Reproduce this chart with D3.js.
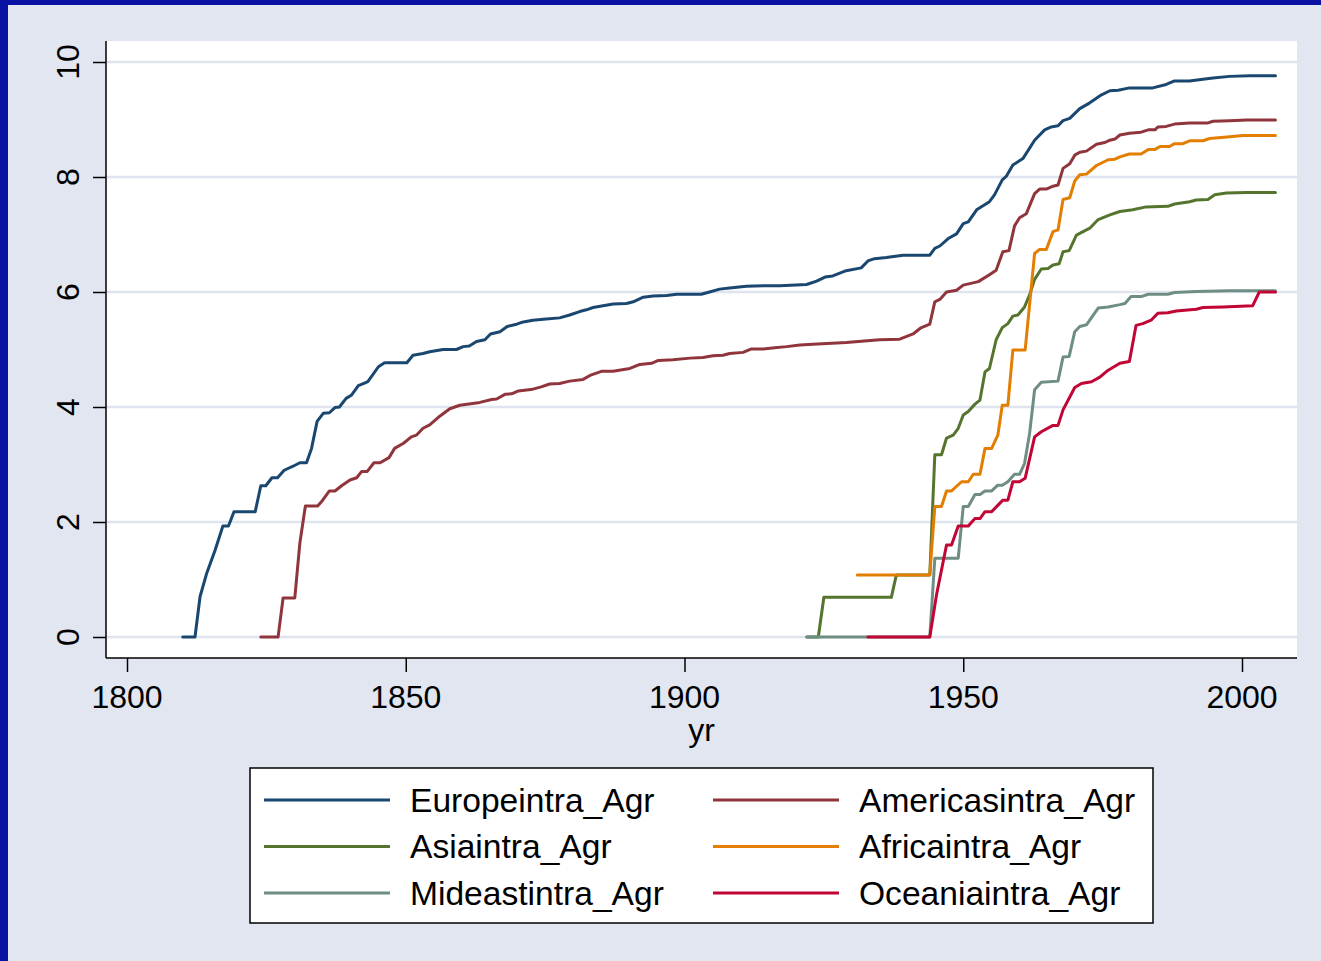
<!DOCTYPE html>
<meta charset="utf-8">
<script src="https://d3js.org/d3.v7.min.js"></script>
<style>
  body { margin: 0; background: #e1e6f0; }
  text { font-family: "Liberation Sans", Arial, sans-serif; fill: #000; }
</style>
<div id="chart"></div>
<script>

// values: [year, value]
var europe = [[1810,0],[1812.2,0],[1813.1,0.70],[1814.3,1.11],[1815.8,1.51],[1817.2,1.93],[1818.2,1.93],[1819.2,2.18],[1823,2.18],[1824,2.63],[1824.9,2.63],[1826,2.77],[1827,2.77],[1828.2,2.90],[1829.8,2.97],[1831,3.03],[1832.2,3.03],[1833.1,3.28],[1834.1,3.75],[1835.2,3.89],[1836.3,3.90],[1837.3,3.99],[1838.1,4.00],[1839.3,4.15],[1840.3,4.21],[1841.5,4.37],[1842.7,4.42],[1843.2,4.44],[1845.1,4.70],[1846.2,4.77],[1850.2,4.77],[1851.3,4.90],[1853.1,4.93],[1854.3,4.96],[1856.7,5.00],[1859.1,5.00],[1860.3,5.05],[1861.4,5.06],[1862.7,5.14],[1864.2,5.17],[1865.2,5.27],[1866.9,5.31],[1868.2,5.40],[1869.9,5.44],[1871.1,5.48],[1872.8,5.51],[1875.2,5.53],[1877.6,5.55],[1879.4,5.60],[1881.2,5.66],[1882.4,5.69],[1883.6,5.73],[1885.4,5.76],[1887.2,5.79],[1889.6,5.80],[1890.8,5.83],[1892.6,5.91],[1894.4,5.93],[1896.8,5.94],[1898.6,5.96],[1903,5.96],[1904.5,6.00],[1906.3,6.05],[1908.1,6.07],[1911.1,6.10],[1914.1,6.11],[1917.1,6.11],[1921.9,6.13],[1923.7,6.19],[1925.2,6.26],[1926.6,6.28],[1929,6.37],[1931.7,6.42],[1932.9,6.54],[1934.1,6.58],[1936.2,6.60],[1939.2,6.64],[1944,6.64],[1944.9,6.76],[1945.8,6.80],[1947.3,6.93],[1948.8,7.01],[1950,7.19],[1950.9,7.22],[1952.4,7.43],[1954.7,7.57],[1955.6,7.69],[1957,7.95],[1957.7,8.01],[1958.9,8.21],[1960.7,8.32],[1962.8,8.64],[1964.6,8.82],[1965.8,8.87],[1967,8.89],[1967.9,8.98],[1969.1,9.02],[1970.9,9.19],[1972.7,9.29],[1974.8,9.43],[1976.3,9.50],[1977.8,9.51],[1979.8,9.55],[1984,9.55],[1986.4,9.61],[1987.9,9.67],[1990.6,9.67],[1993,9.70],[1994.8,9.72],[1997.8,9.75],[2001.4,9.76],[2006,9.76]]

var americas = [[1824,0],[1827.1,0],[1828,0.68],[1830.1,0.68],[1831,1.63],[1832,2.28],[1834.2,2.28],[1835.1,2.38],[1836.3,2.54],[1837.3,2.54],[1838.5,2.63],[1840,2.73],[1841.2,2.77],[1842.1,2.88],[1843.1,2.88],[1844.3,3.03],[1845.4,3.03],[1847,3.12],[1848,3.28],[1849.6,3.37],[1851,3.48],[1851.9,3.51],[1853.1,3.63],[1854.3,3.69],[1856.1,3.84],[1857.9,3.97],[1859.7,4.03],[1863.3,4.08],[1865.4,4.13],[1866.3,4.14],[1867.8,4.22],[1869,4.23],[1870.2,4.28],[1872.8,4.31],[1874.3,4.35],[1875.8,4.40],[1877.6,4.41],[1879.4,4.45],[1881.8,4.48],[1883.3,4.56],[1885.1,4.62],[1887.2,4.62],[1890.2,4.67],[1892,4.74],[1894.1,4.76],[1895.3,4.81],[1897.9,4.82],[1901,4.85],[1903.3,4.86],[1905.1,4.89],[1906.9,4.90],[1908.1,4.93],[1910.5,4.95],[1912,5.01],[1914.1,5.01],[1916.2,5.03],[1918.3,5.05],[1920.7,5.08],[1923,5.09],[1929,5.12],[1935,5.17],[1938.6,5.18],[1941,5.27],[1942.3,5.37],[1944,5.44],[1944.9,5.83],[1945.8,5.87],[1947,6.00],[1948.8,6.03],[1950,6.12],[1952.7,6.18],[1954.7,6.30],[1955.9,6.38],[1957.1,6.70],[1958.2,6.72],[1959.2,7.15],[1960.1,7.29],[1961.3,7.36],[1962.8,7.71],[1963.7,7.79],[1964.9,7.79],[1966.1,7.84],[1967,7.86],[1967.9,8.15],[1969.1,8.23],[1970,8.38],[1970.9,8.43],[1972.1,8.45],[1973.9,8.57],[1975.4,8.60],[1976.3,8.64],[1977.2,8.66],[1978.1,8.73],[1979.8,8.76],[1981.9,8.78],[1983.2,8.82],[1984.4,8.82],[1984.9,8.87],[1986.4,8.88],[1987.9,8.92],[1990.6,8.94],[1993.9,8.94],[1994.8,8.97],[1997.8,8.98],[2000.8,8.99],[2006,8.99]]

var asia = [[1922,0],[1924,0],[1925,0.69],[1937.1,0.69],[1938,1.08],[1944,1.08],[1944.9,3.17],[1946.1,3.17],[1947,3.46],[1948.2,3.51],[1949.1,3.63],[1950,3.86],[1950.9,3.92],[1952.1,4.05],[1953,4.12],[1953.9,4.61],[1954.7,4.67],[1955.9,5.17],[1957,5.38],[1958,5.45],[1958.9,5.58],[1959.8,5.60],[1961,5.74],[1961.9,5.95],[1962.8,6.22],[1964,6.40],[1965.2,6.41],[1966.1,6.47],[1967.2,6.49],[1967.9,6.70],[1969,6.72],[1970.3,6.99],[1971.5,7.05],[1972.7,7.11],[1974.2,7.26],[1976.3,7.34],[1978.1,7.40],[1980.4,7.43],[1982.8,7.48],[1986.7,7.49],[1987.9,7.53],[1990.6,7.57],[1991.8,7.60],[1993.9,7.61],[1995.1,7.69],[1997.2,7.72],[2000.8,7.73],[2006,7.73]]

var africa = [[1931,1.08],[1944,1.08],[1944.9,2.27],[1946.1,2.27],[1947,2.54],[1947.9,2.54],[1949.7,2.70],[1950.9,2.70],[1951.8,2.83],[1953,2.83],[1953.9,3.28],[1955.1,3.28],[1956.2,3.51],[1957,4.03],[1958,4.03],[1958.9,4.99],[1961.1,4.99],[1962.8,6.67],[1963.7,6.74],[1964.9,6.74],[1966.1,7.05],[1967,7.08],[1967.9,7.61],[1969.1,7.64],[1970,7.93],[1970.9,8.04],[1972.1,8.05],[1973.9,8.20],[1976,8.30],[1977.2,8.31],[1978.1,8.35],[1979.8,8.40],[1981.9,8.40],[1983.2,8.48],[1984.4,8.48],[1985.3,8.53],[1987,8.53],[1987.9,8.58],[1989.4,8.58],[1990.6,8.63],[1993,8.63],[1994.2,8.67],[1997.8,8.70],[2000.2,8.72],[2006,8.72]]

var mideast = [[1921.9,0],[1944,0],[1944.9,1.37],[1949.1,1.37],[1950,2.27],[1950.9,2.27],[1952.1,2.48],[1953,2.48],[1953.9,2.54],[1955.1,2.54],[1956.2,2.64],[1957,2.64],[1958,2.70],[1959.2,2.83],[1960.1,2.83],[1961,3.02],[1961.9,3.54],[1962.8,4.30],[1964,4.43],[1967,4.45],[1967.9,4.87],[1969,4.88],[1970,5.31],[1970.9,5.40],[1972.1,5.43],[1974.2,5.72],[1976,5.74],[1978.1,5.78],[1979,5.80],[1980.1,5.92],[1981.9,5.92],[1983.2,5.96],[1986.7,5.96],[1987.9,5.99],[1991.8,6.01],[1997.8,6.02],[2006,6.02]]

var oceania = [[1932.9,0],[1944,0],[1945.2,0.73],[1947,1.60],[1947.9,1.60],[1949.1,1.93],[1950.9,1.93],[1952.1,2.06],[1953,2.06],[1953.9,2.18],[1955.1,2.18],[1957.1,2.38],[1958,2.38],[1958.9,2.70],[1960.1,2.70],[1961.1,2.76],[1962.8,3.48],[1964,3.57],[1966.1,3.68],[1967,3.68],[1967.9,3.95],[1970,4.34],[1971.2,4.41],[1973,4.44],[1974.5,4.52],[1976,4.64],[1978.1,4.76],[1979.8,4.79],[1981,5.42],[1982.2,5.45],[1983.7,5.51],[1984.9,5.63],[1986.7,5.64],[1988.2,5.67],[1991.8,5.70],[1993,5.73],[1996.6,5.74],[2001.9,5.76],[2003.1,6.00],[2006,6.00]]

var seriesNames = ["Europeintra_Agr", "Americasintra_Agr", "Asiaintra_Agr", "Africaintra_Agr", "Mideastintra_Agr", "Oceaniaintra_Agr"]
var seriesData = [europe, americas, asia, africa, mideast, oceania]
var colors = ["#1a476f", "#90353b", "#55752f", "#e37e00", "#6e8e84", "#c10534"]

var xTicks = [1800, 1850, 1900, 1950, 2000]
var yTicks = [0, 2, 4, 6, 8, 10]

var width = 1321, height = 961
var plotLeft = 106, plotRight = 1297, plotTop = 41, plotBottom = 658

var svg = d3.select("#chart").append("svg")
    .attr("width", width)
    .attr("height", height)

// background + blue frame on left/top
svg.append("rect").attr("width", width).attr("height", height).attr("fill", "#e1e6f0")
svg.append("rect").attr("x", 0).attr("y", 0).attr("width", 8).attr("height", height).attr("fill", "#0a12a3")
svg.append("rect").attr("x", 0).attr("y", 0).attr("width", width).attr("height", 5).attr("fill", "#0a12a3")

var x = d3.scaleLinear().domain([1800, 2000]).range([127, 1242])
var y = d3.scaleLinear().domain([0, 10]).range([637, 62])

// plot region
svg.append("rect")
    .attr("x", plotLeft).attr("y", plotTop)
    .attr("width", plotRight - plotLeft).attr("height", plotBottom - plotTop)
    .attr("fill", "#fff")

// gridlines
svg.selectAll(".grid").data(yTicks).enter().append("line")
    .attr("x1", plotLeft).attr("x2", plotRight)
    .attr("y1", function(d) { return y(d) }).attr("y2", function(d) { return y(d) })
    .attr("stroke", "#dfe4ef").attr("stroke-width", 2.5)

// series
var line = d3.line()
    .x(function(d) { return x(d[0]) })
    .y(function(d) { return y(d[1]) })

seriesData.forEach(function(s, i) {
  svg.append("path")
      .datum(s)
      .attr("d", line)
      .attr("fill", "none")
      .attr("stroke", colors[i])
      .attr("stroke-width", 3)
      .attr("stroke-linejoin", "round")
      .attr("stroke-linecap", "round")
})

// y axis
var yAxis = svg.append("g").attr("transform", "translate(" + plotLeft + ",0)")
    .call(d3.axisLeft(y).tickValues(yTicks).tickSize(13).tickFormat(""))
yAxis.select(".domain").attr("d", "M0," + plotTop + "V" + plotBottom).attr("stroke-width", 1.5)
yAxis.selectAll(".tick line").attr("stroke-width", 1.5)
svg.selectAll(".ylab").data(yTicks).enter().append("text")
    .attr("transform", function(d) { return "translate(79," + y(d) + ") rotate(-90)" })
    .attr("text-anchor", "middle")
    .style("font-size", "32px")
    .text(function(d) { return d })

// x axis
var xAxis = svg.append("g").attr("transform", "translate(0," + plotBottom + ")")
    .call(d3.axisBottom(x).tickValues(xTicks).tickSize(14).tickFormat(""))
xAxis.select(".domain").attr("d", "M" + plotLeft + ",0H" + plotRight).attr("stroke-width", 1.5)
xAxis.selectAll(".tick line").attr("stroke-width", 1.5)
svg.selectAll(".xlab").data(xTicks).enter().append("text")
    .attr("x", function(d) { return x(d) })
    .attr("y", 708)
    .attr("text-anchor", "middle")
    .style("font-size", "32px")
    .text(function(d) { return d })

svg.append("text")
    .attr("x", (plotLeft + plotRight) / 2).attr("y", 741)
    .attr("text-anchor", "middle")
    .style("font-size", "32px")
    .text("yr")

// legend
var legend = svg.append("g")
legend.append("rect")
    .attr("x", 250).attr("y", 768).attr("width", 903).attr("height", 155)
    .attr("fill", "#fff").attr("stroke", "#000").attr("stroke-width", 1.5)

var items = legend.selectAll(".item").data(seriesNames).enter().append("g")
    .attr("transform", function(d, i) {
      return "translate(" + (i % 2 === 0 ? 264 : 713) + "," + (800 + Math.floor(i / 2) * 46.5) + ")"
    })
items.append("line")
    .attr("x1", 0).attr("x2", 126).attr("y1", 0).attr("y2", 0)
    .attr("stroke", function(d, i) { return colors[i] })
    .attr("stroke-width", 3)
items.append("text")
    .attr("x", 146).attr("y", 11.5)
    .style("font-size", "33.6px")
    .text(function(d) { return d })

</script>
